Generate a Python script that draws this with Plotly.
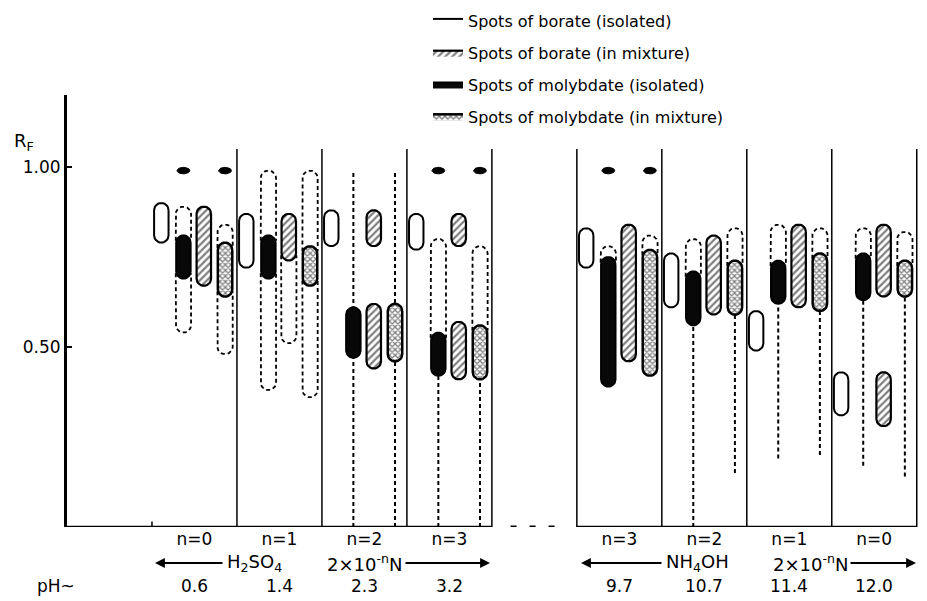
import math
import plotly.graph_objects as go

# ---------------- data (R_F values) ----------------
acid_n = ["n=0", "n=1", "n=2", "n=3"]
base_n = ["n=3", "n=2", "n=1", "n=0"]
ph_values = ["0.6", "1.4", "2.3", "3.2", "9.7", "10.7", "11.4", "12.0"]

borate_iso = [(0.79, 0.90), (0.72, 0.87), (0.78, 0.88), (0.77, 0.87),
              (0.72, 0.83), (0.61, 0.76), (0.49, 0.60), (0.31, 0.43)]
borate_mix = [(0.67, 0.89), (0.74, 0.87), (0.78, 0.88), (0.78, 0.87),
              (0.46, 0.84), (0.59, 0.81), (0.61, 0.84), (0.64, 0.84)]
borate_mix_2nd = [None, None, (0.44, 0.62), (0.41, 0.57),
                  None, None, None, (0.28, 0.43)]
borate_mix_streak = [None, (0.51, 0.87), None, None, None, None, None, None]
molyb_iso = [(0.69, 0.81), (0.69, 0.81), (0.47, 0.61), (0.42, 0.54),
             (0.39, 0.75), (0.56, 0.71), (0.62, 0.74), (0.63, 0.76)]
molyb_iso_streak = [(0.54, 0.89), (0.38, 0.99), None, (0.42, 0.80),
                    (0.39, 0.78), (0.56, 0.80), (0.62, 0.84), (0.63, 0.83)]
molyb_iso_tail = [None, None, (0.0, 0.99), (0.0, 0.42),
                  None, (0.0, 0.56), (0.19, 0.62), (0.17, 0.63)]
molyb_mix = [(0.64, 0.79), (0.67, 0.78), (0.46, 0.62), (0.41, 0.56),
             (0.42, 0.77), (0.59, 0.74), (0.60, 0.76), (0.64, 0.74)]
molyb_mix_streak = [(0.48, 0.84), (0.36, 0.99), None, (0.41, 0.78),
                    (0.42, 0.81), (0.59, 0.83), (0.60, 0.83), (0.64, 0.82)]
molyb_mix_tail = [None, None, (0.0, 0.99), (0.0, 0.41),
                  None, (0.15, 0.59), (0.20, 0.60), (0.14, 0.64)]
front_iso = [0.99, None, None, 0.99, 0.99, None, None, None]
front_mix = [0.99, None, None, 0.99, 0.99, None, None, None]

acid_label = ["H<sub>2</sub>SO<sub>4</sub>", "2×10<sup>-n</sup>N"]
base_label = ["NH<sub>4</sub>OH", "2×10<sup>-n</sup>N"]

# ---------------- layout geometry ----------------
# the page places the figure 8 px in from the top-left corner
PAGE = 8
W, H = 927, 601
PLOT_L, PLOT_R, PLOT_T, PLOT_B = 67, 921, 95, 527   # target page pixels
ML, MT = PLOT_L - PAGE, PLOT_T - PAGE
MR, MB = W - (PLOT_R - PAGE), H - (PLOT_B - PAGE)
XR = [-1.0, 9.05]
YR = [0.0, 1.2]
PXX = (PLOT_R - PLOT_L) / (XR[1] - XR[0])
PXY = (PLOT_B - PLOT_T) / (YR[1] - YR[0])

ncol = len(ph_values)
col_pos = [i if i < 4 else i + 1 for i in range(ncol)]
OFF = {"biso": 0.11, "miso": 0.37, "bmix": 0.61, "mmix": 0.86}
PW = 0.17   # pill width (column units)
EW = 0.18   # streak envelope width
FONT = "DejaVu Sans"


def paper_y(py):
    return (PLOT_B - py) / (PLOT_B - PLOT_T)


def paper_x(px):
    return (px - PLOT_L) / (PLOT_R - PLOT_L)


def data_x(px):
    return XR[0] + (px - PLOT_L) / PXX


def pill(xc, lo, hi, w, n=14):
    rx = w / 2
    ry = rx * PXX / PXY
    if hi - lo < 2 * ry:
        ry = (hi - lo) / 2
    xs, ys = [], []
    for i in range(n + 1):
        a = math.pi * i / n
        xs.append(xc + rx * math.cos(a))
        ys.append(hi - ry + ry * math.sin(a))
    for i in range(n + 1):
        a = math.pi + math.pi * i / n
        xs.append(xc + rx * math.cos(a))
        ys.append(lo + ry + ry * math.sin(a))
    xs.append(xs[0])
    ys.append(ys[0])
    return xs, ys


def cap(xc, base, end, w, n=12):
    """open U-shaped outline from `base` to a rounded end at `end`"""
    rx = w / 2
    ry = min(rx * PXX / PXY, abs(end - base))
    sgn = 1 if end > base else -1
    c = end - sgn * ry
    xs, ys = [xc - rx], [base]
    for i in range(n + 1):
        a = math.pi - math.pi * i / n
        xs.append(xc + rx * math.cos(a))
        ys.append(c + sgn * ry * math.sin(a))
    xs.append(xc + rx)
    ys.append(base)
    return xs, ys


def pills(ranges, key, w=PW):
    X, Y = [], []
    for i, r in enumerate(ranges):
        if r is None:
            continue
        xs, ys = pill(col_pos[i] + OFF[key], r[0], r[1], w)
        X += xs + [None]
        Y += ys + [None]
    return X, Y


def envelopes(streaks, spots, key):
    """dashed streak outline, drawn only where the spot does not cover it"""
    X, Y = [], []
    for i, s in enumerate(streaks):
        if s is None:
            continue
        xc = col_pos[i] + OFF[key]
        lo, hi = spots[i]
        if s[1] > hi + 0.005:
            xs, ys = cap(xc, hi - 0.015, s[1], EW)
            X += xs + [None]
            Y += ys + [None]
        if s[0] < lo - 0.005:
            xs, ys = cap(xc, lo + 0.015, s[0], EW)
            X += xs + [None]
            Y += ys + [None]
    return X, Y


def tails(ranges, key):
    X, Y = [], []
    for i, r in enumerate(ranges):
        if r is None:
            continue
        xc = col_pos[i] + OFF[key]
        X += [xc, xc, None]
        Y += [r[0], r[1], None]
    return X, Y


def fronts(vals, key):
    X, Y = [], []
    for i, v in enumerate(vals):
        if v is None:
            continue
        xs, ys = pill(col_pos[i] + OFF[key], v - 0.009, v + 0.009, 0.15)
        X += xs + [None]
        Y += ys + [None]
    return X, Y


fig = go.Figure()

DASH = "4px,3px"
# dashed streak envelopes
for streak, spots, key in [(borate_mix_streak, borate_mix, "bmix"),
                           (molyb_iso_streak, molyb_iso, "miso"),
                           (molyb_mix_streak, molyb_mix, "mmix")]:
    X, Y = envelopes(streak, spots, key)
    fig.add_trace(go.Scatter(x=X, y=Y, mode="lines", showlegend=False,
                             line=dict(color="black", width=1.8, dash=DASH),
                             hoverinfo="skip"))
# dashed tails
for rng, key in [(molyb_iso_tail, "miso"), (molyb_mix_tail, "mmix")]:
    X, Y = tails(rng, key)
    fig.add_trace(go.Scatter(x=X, y=Y, mode="lines", showlegend=False,
                             line=dict(color="black", width=2, dash=DASH),
                             hoverinfo="skip"))

# spots
X, Y = pills(borate_iso, "biso")
fig.add_trace(go.Scatter(x=X, y=Y, mode="lines", fill="toself",
                         fillcolor="white", name="Spots of borate (isolated)",
                         line=dict(color="black", width=2), legendgroup="a"))
bx, by = pills(borate_mix, "bmix")
bx2, by2 = pills(borate_mix_2nd, "bmix")
fig.add_trace(go.Scatter(x=bx + bx2, y=by + by2, mode="lines", fill="toself",
                         fillpattern=dict(shape="/", fgcolor="black", bgcolor="white",
                                          size=5, solidity=0.45),
                         name="Spots of borate (in mixture)",
                         line=dict(color="black", width=2.2), legendgroup="b"))
X, Y = pills(molyb_iso, "miso")
fig.add_trace(go.Scatter(x=X, y=Y, mode="lines", fill="toself",
                         fillcolor="rgb(8,8,8)", name="Spots of molybdate (isolated)",
                         line=dict(color="black", width=2), legendgroup="c"))
X, Y = pills(molyb_mix, "mmix")
fig.add_trace(go.Scatter(x=X, y=Y, mode="lines", fill="toself",
                         fillpattern=dict(shape="x", fgcolor="black", bgcolor="white",
                                          size=4, solidity=0.55),
                         name="Spots of molybdate (in mixture)",
                         line=dict(color="black", width=2.5), legendgroup="d"))
# solvent-front dots
for vals, key in [(front_iso, "miso"), (front_mix, "mmix")]:
    X, Y = fronts(vals, key)
    fig.add_trace(go.Scatter(x=X, y=Y, mode="lines", fill="toself",
                             fillcolor="black", showlegend=False,
                             line=dict(color="black", width=1), hoverinfo="skip"))

# ---------------- frame shapes ----------------
shapes = []
left_end = col_pos[3] + 1
right_start = col_pos[4]
right_end = col_pos[-1] + 1
shapes.append(dict(type="line", xref="x", yref="y", x0=XR[0], x1=left_end, y0=0, y1=0,
                   line=dict(color="black", width=2.5)))
shapes.append(dict(type="line", xref="x", yref="y", x0=right_start, x1=right_end, y0=0, y1=0,
                   line=dict(color="black", width=2.5)))
shapes.append(dict(type="line", xref="x", yref="y", x0=left_end + 0.22, x1=right_start - 0.15,
                   y0=0, y1=0, line=dict(color="black", width=3, dash="6px,13px")))
shapes.append(dict(type="line", xref="x", yref="y", x0=0, x1=0, y0=0, y1=0.015,
                   line=dict(color="black", width=1.5)))
for i in range(ncol):
    xs = [col_pos[i] + 1]
    if i == 4:
        xs.append(col_pos[i])
    for xv in xs:
        shapes.append(dict(type="line", xref="x", yref="y", x0=xv, x1=xv, y0=0, y1=1.05,
                           line=dict(color="black", width=1.5)))

# ---------------- annotations ----------------
ann = []
TF = dict(family=FONT, size=17, color="black")
ann.append(dict(text="R<sub>F</sub>", xref="paper", yref="paper", x=paper_x(12),
                y=paper_y(142), xanchor="left", yanchor="middle", showarrow=False,
                font=dict(family=FONT, size=18, color="black")))
y_row2 = paper_y(563)
y_row3 = paper_y(586)
for i, v in enumerate(ph_values):
    ann.append(dict(text=v, xref="x", yref="paper", x=col_pos[i] + 0.5, y=y_row3,
                    xanchor="center", yanchor="middle", showarrow=False, font=TF))
ann.append(dict(text="pH~", xref="paper", yref="paper", x=paper_x(56), y=y_row3,
                xanchor="center", yanchor="middle", showarrow=False, font=TF))

# (label parts, text centres px, arrow heads px, arrow tails px)
groups = [
    (acid_label, (254, 364), (155, 490), (224, 404)),
    (base_label, (697, 810), (581, 916), (663, 849)),
]
for parts, centres, heads, tl in groups:
    for txt, cx in zip(parts, centres):
        ann.append(dict(text=txt, xref="x", yref="paper", x=data_x(cx), y=y_row2,
                        xanchor="center", yanchor="middle", showarrow=False,
                        font=dict(family=FONT, size=18, color="black")))
    for head, tail in zip(heads, tl):
        ann.append(dict(text="", xref="x", yref="paper", x=data_x(head), y=y_row2,
                        axref="x", ayref="pixel", ax=data_x(tail), ay=0, showarrow=True,
                        arrowhead=2, arrowsize=1.1, arrowwidth=1.8, arrowcolor="black"))

fig.update_layout(
    width=W, height=H,
    margin=dict(l=ML, r=MR, t=MT, b=MB, autoexpand=False),
    plot_bgcolor="white", paper_bgcolor="white",
    shapes=shapes, annotations=ann,
    font=dict(family=FONT, color="black"),
    showlegend=True,
    legend=dict(x=paper_x(428), y=paper_y(4), xanchor="left", yanchor="top",
                font=dict(family=FONT, size=16, color="black"),
                bgcolor="rgba(0,0,0,0)", tracegroupgap=8, itemwidth=30),
    xaxis=dict(range=XR, showgrid=False, zeroline=False, showline=False,
               tickvals=[c + 0.5 for c in col_pos], ticktext=acid_n + base_n,
               ticks="", tickfont=TF),
    yaxis=dict(range=YR, showgrid=False, zeroline=False, showline=True,
               linecolor="black", linewidth=3, ticks="inside", ticklen=5,
               tickwidth=2, tickcolor="black", tickvals=[0.5, 1.0],
               ticktext=["0.50", "1.00"],
               tickfont=dict(family=FONT, size=17, color="black")),
)

fig.write_html("out.html")
